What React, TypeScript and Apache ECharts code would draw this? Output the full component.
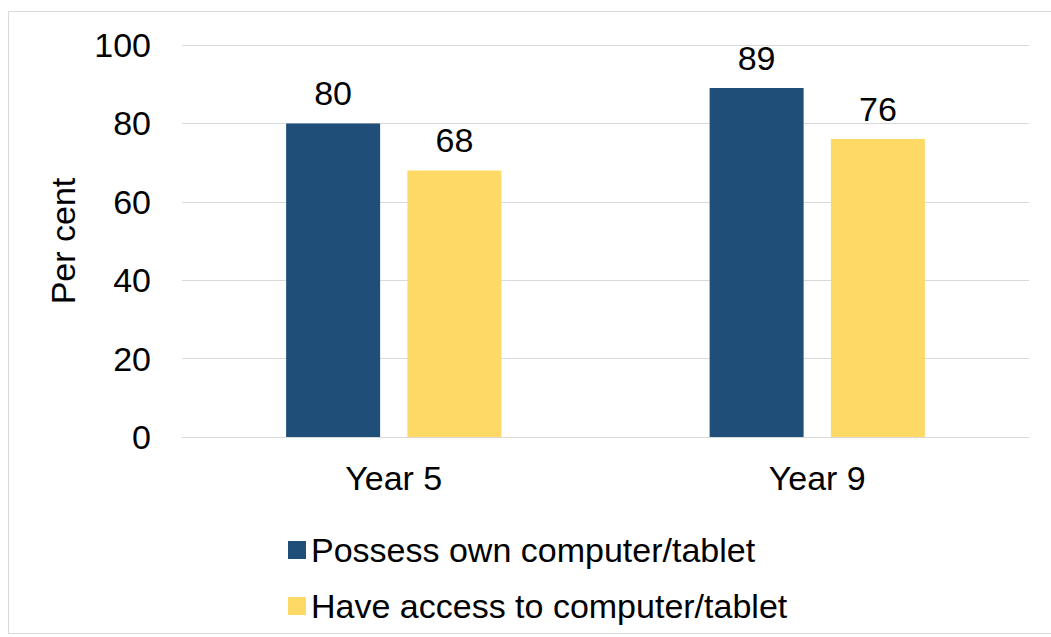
import React, { useEffect, useRef } from "react";
import * as echarts from "echarts";

const categories = ["Year 5", "Year 9"];
const seriesNames = ["Possess own computer/tablet", "Have access to computer/tablet"];
const possessValues = [80, 89];
const accessValues = [68, 76];
const colors = ["#1F4E79", "#FFD966"];

export default function App() {
  const ref = useRef<HTMLDivElement>(null);
  useEffect(() => {
    if (!ref.current) return;
    const chart = echarts.init(ref.current, null, { renderer: "svg" });
    const font = "'Liberation Sans', Arial, sans-serif";
    const fs = 34;
    chart.setOption({
      animation: false,
      backgroundColor: "#ffffff",
      textStyle: { fontFamily: font },
      graphic: [
        {
          type: "rect",
          shape: { x: 8.5, y: 11.5, width: 1060, height: 622 },
          style: { fill: "none", stroke: "#d9d9d9", lineWidth: 1 },
          silent: true,
          z: -1,
        },
      ],
      grid: { left: 182, right: 22, top: 45, bottom: 200, containLabel: false },
      legend: {
        orient: "vertical",
        left: 283,
        top: 528,
        itemWidth: 18,
        itemHeight: 18,
        itemGap: 22,
        icon: "rect",
        textStyle: { fontSize: fs, color: "#000", fontFamily: font },
        data: seriesNames,
      },
      xAxis: {
        type: "category",
        data: categories,
        axisLine: { lineStyle: { color: "#d9d9d9" } },
        axisTick: { show: false },
        axisLabel: { fontSize: fs, color: "#000", margin: 24, fontFamily: font },
      },
      yAxis: {
        type: "value",
        min: 0,
        max: 100,
        interval: 20,
        name: "Per cent",
        nameLocation: "middle",
        nameGap: 102,
        nameRotate: 90,
        nameTextStyle: { fontSize: fs, color: "#000", fontFamily: font },
        axisLabel: { fontSize: fs, color: "#000", margin: 31, fontFamily: font },
        splitLine: { lineStyle: { color: "#d9d9d9" } },
        axisLine: { show: false },
        axisTick: { show: false },
      },
      series: [
        {
          name: seriesNames[0],
          type: "bar",
          data: possessValues,
          barWidth: 94,
          barGap: "29%",
          itemStyle: { color: colors[0] },
          label: { show: true, position: "top", distance: 13, fontSize: fs, color: "#000", fontFamily: font },
        },
        {
          name: seriesNames[1],
          type: "bar",
          data: accessValues,
          barWidth: 94,
          barGap: "29%",
          itemStyle: { color: colors[1] },
          label: { show: true, position: "top", distance: 13, fontSize: fs, color: "#000", fontFamily: font },
        },
      ],
    });
    return () => chart.dispose();
  }, []);
  return (
    <div
      ref={ref}
      style={{ position: "fixed", left: 0, top: 0, width: 1051, height: 637, background: "#fff" }}
    />
  );
}
